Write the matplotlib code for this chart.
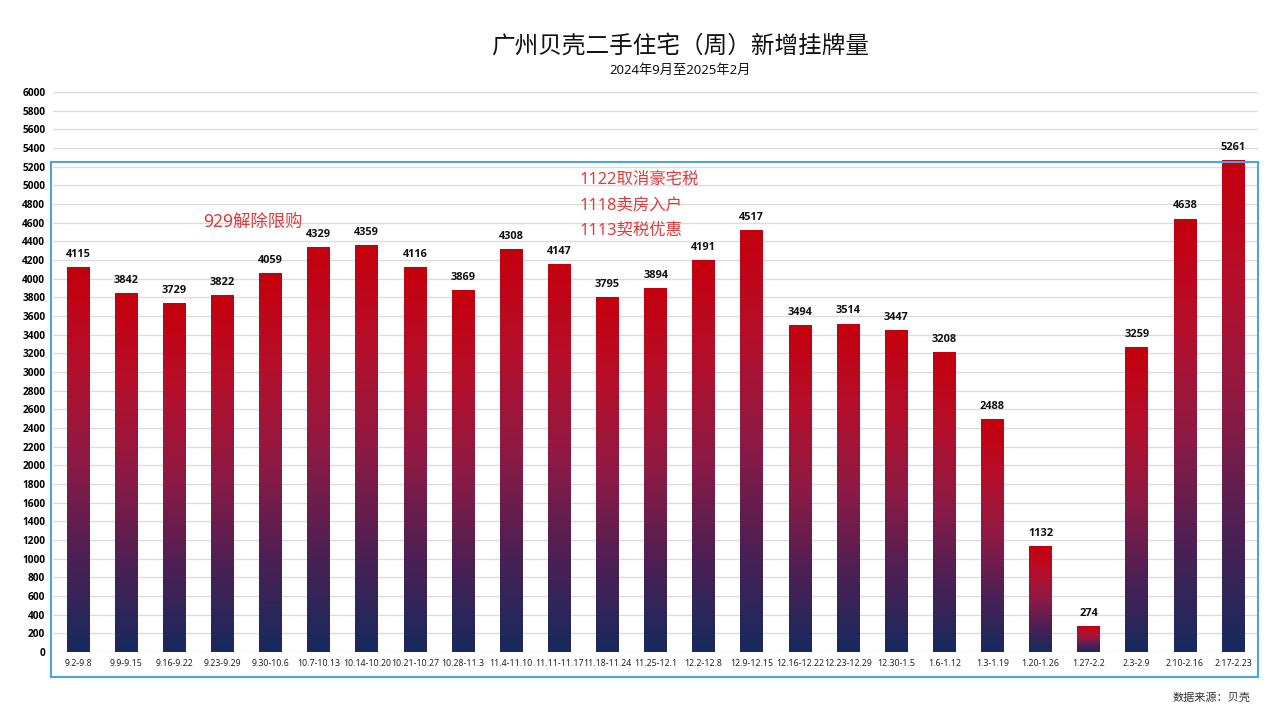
import numpy as np
import matplotlib
matplotlib.use("Agg")
import matplotlib.pyplot as plt
from matplotlib.colors import LinearSegmentedColormap
from matplotlib.patches import Rectangle

plt.rcParams['font.family'] = ['Noto Sans', 'Noto Sans CJK SC', 'DejaVu Sans']
CJK = ['Noto Sans CJK SC', 'DejaVu Sans']
BOLD = ['Open Sans', 'DejaVu Sans']

weeks = ["9.2-9.8", "9.9-9.15", "9.16-9.22", "9.23-9.29", "9.30-10.6", "10.7-10.13",
         "10.14-10.20", "10.21-10.27", "10.28-11.3", "11.4-11.10", "11.11-11.17",
         "11.18-11.24", "11.25-12.1", "12.2-12.8", "12.9-12.15", "12.16-12.22",
         "12.23-12.29", "12.30-1.5", "1.6-1.12", "1.3-1.19", "1.20-1.26", "1.27-2.2",
         "2.3-2.9", "2.10-2.16", "2.17-2.23"]
listings = [4115, 3842, 3729, 3822, 4059, 4329, 4359, 4116, 3869, 4308, 4147,
            3795, 3894, 4191, 4517, 3494, 3514, 3447, 3208, 2488, 1132, 274,
            3259, 4638, 5261]
y_ticks = list(range(0, 6001, 200))
title = "广州贝壳二手住宅（周）新增挂牌量"
subtitle = "2024年9月至2025年2月"
source = "数据来源：贝壳"
note_929 = "929解除限购"
notes_nov = ["1122取消豪宅税", "1118卖房入户", "1113契税优惠"]

W, H = 1278, 718
fig = plt.figure(figsize=(W / 100, H / 100), dpi=100)
ax = fig.add_axes([53 / W, 1 - 652 / H, 1205 / W, 560 / H])

x = np.arange(len(weeks))
bars = ax.bar(x, listings, width=0.47, color='none', edgecolor='none', zorder=2)

cmap = LinearSegmentedColormap.from_list(
    "bar_grad",
    [(0.0, "#172A5E"), (0.25, "#4E2054"), (0.5, "#8E1A44"), (0.75, "#B50F2C"), (1.0, "#C5000C")])
grad = np.linspace(0, 1, 256).reshape(-1, 1)
for b in bars:
    x0, w, h = b.get_x(), b.get_width(), b.get_height()
    ax.imshow(grad, cmap=cmap, origin='lower', aspect='auto',
              extent=[x0, x0 + w, 0, h], zorder=2, interpolation='bilinear')
    ax.annotate(f"{int(h)}", (x0 + w / 2, h), xytext=(0, 5.5), textcoords='offset points',
                ha='center', va='bottom', fontsize=7.9, fontweight='bold', color='#111111',
                family=BOLD)

ax.set_xlim(-0.52, len(weeks) - 1 + 0.52)
ax.set_ylim(0, 6000)
ax.set_yticks(y_ticks)
ax.set_yticklabels([str(v) for v in y_ticks], fontsize=7.3, fontweight='bold', family=BOLD)
ax.set_xticks(x)
ax.set_xticklabels(weeks, fontsize=6.3, color='#222222')
ax.tick_params(axis='both', length=0)
ax.tick_params(axis='x', pad=5)
ax.tick_params(axis='y', pad=5.5)
ax.grid(axis='y', color='#dcdcdc', linewidth=1, zorder=0)
ax.set_axisbelow(True)
for s in ax.spines.values():
    s.set_visible(False)

# annotations
ax.text(3.64, 4607, note_929, ha='center', va='center', fontsize=12.5, color='#e03a3a')
for i, t in enumerate(notes_nov):
    ax.text(10.43, 5057 - i * 273, t, ha='left', va='center', fontsize=11.8, color='#e03a3a')

# decorative selection box
fig.patches.append(Rectangle((51 / W, 1 - 677 / H), (1258 - 51) / W, (677 - 162) / H,
                             transform=fig.transFigure, fill=False,
                             edgecolor='#4aa3e8', linewidth=1.5, zorder=5))

fig.text(680 / W, 1 - 47 / H, title, ha='center', va='center', fontsize=17, color='#111111',
         family=CJK)
fig.text(680 / W, 1 - 70 / H, subtitle, ha='center', va='center', fontsize=9.5, color='#111111')
fig.text(1250 / W, 1 - 698 / H, source, ha='right', va='center', fontsize=8, color='#333333',
         family=CJK)

fig.savefig("out.png", dpi=100)
